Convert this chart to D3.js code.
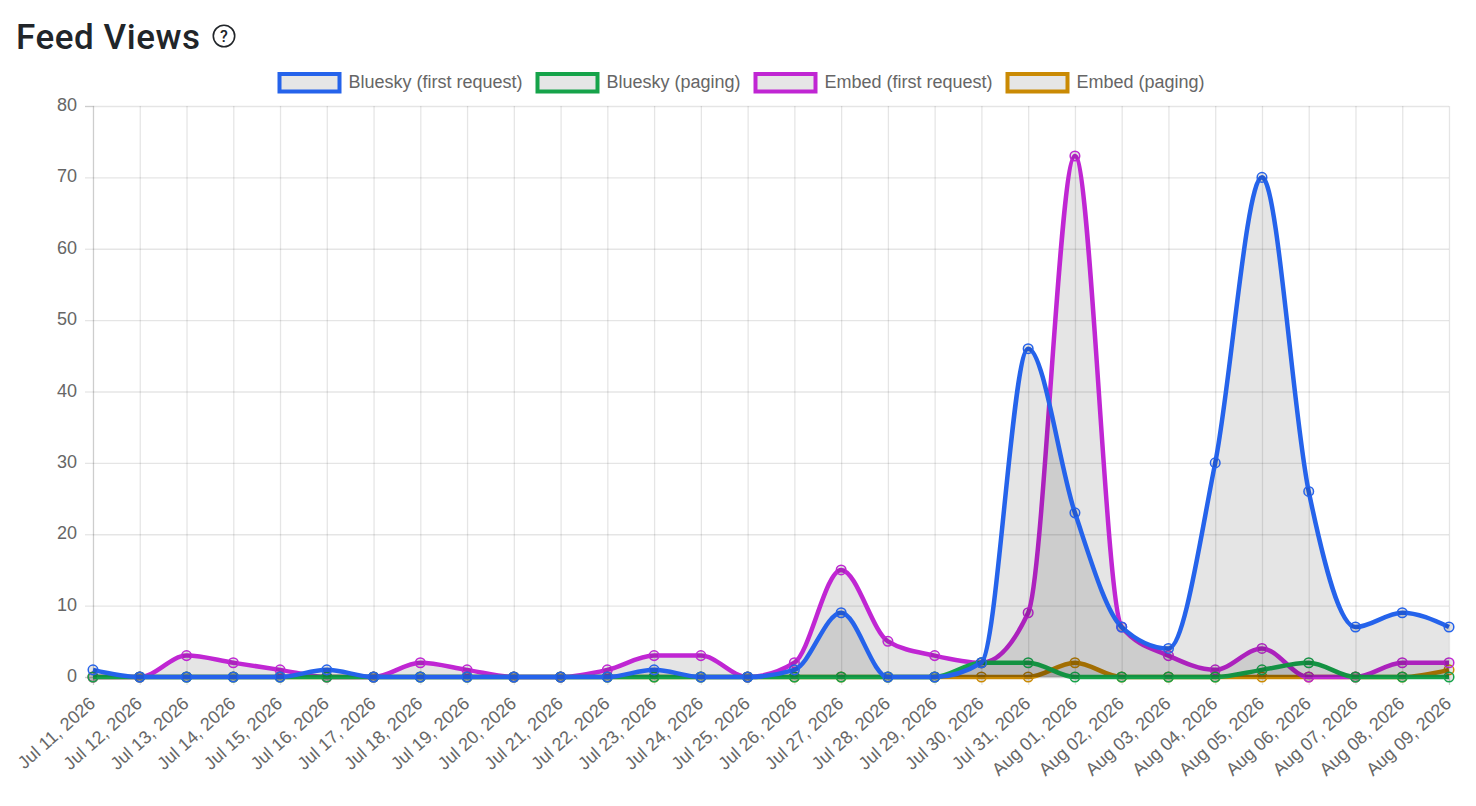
<!DOCTYPE html>
<html>
<head>
<meta charset="utf-8">
<title>Feed Views</title>
<script src="https://cdn.jsdelivr.net/npm/d3@7"></script>
<style>
  html, body { margin: 0; background: #fff; }
  svg { display: block; }
  text { font-family: "Liberation Sans", Arial, sans-serif; fill: #666; }
</style>
</head>
<body>
<script>
// data
const days = ['Jul 11, 2026', 'Jul 12, 2026', 'Jul 13, 2026', 'Jul 14, 2026', 'Jul 15, 2026', 'Jul 16, 2026',
  'Jul 17, 2026', 'Jul 18, 2026', 'Jul 19, 2026', 'Jul 20, 2026', 'Jul 21, 2026', 'Jul 22, 2026', 'Jul 23, 2026',
  'Jul 24, 2026', 'Jul 25, 2026', 'Jul 26, 2026', 'Jul 27, 2026', 'Jul 28, 2026', 'Jul 29, 2026', 'Jul 30, 2026',
  'Jul 31, 2026', 'Aug 01, 2026', 'Aug 02, 2026', 'Aug 03, 2026', 'Aug 04, 2026', 'Aug 05, 2026', 'Aug 06, 2026',
  'Aug 07, 2026', 'Aug 08, 2026', 'Aug 09, 2026'];
const bskyFirst = [1, 0, 0, 0, 0, 1, 0, 0, 0, 0, 0, 0, 1, 0, 0, 1, 9, 0, 0, 2, 46, 23, 7, 4, 30, 70, 26, 7, 9, 7];
const bskyPaging = [0, 0, 0, 0, 0, 0, 0, 0, 0, 0, 0, 0, 0, 0, 0, 0, 0, 0, 0, 2, 2, 0, 0, 0, 0, 1, 2, 0, 0, 0];
const embedFirst = [0, 0, 3, 2, 1, 0, 0, 2, 1, 0, 0, 1, 3, 3, 0, 2, 15, 5, 3, 2, 9, 73, 7, 3, 1, 4, 0, 0, 2, 2];
const embedPaging = [0, 0, 0, 0, 0, 0, 0, 0, 0, 0, 0, 0, 0, 0, 0, 0, 0, 0, 0, 0, 0, 2, 0, 0, 0, 0, 0, 0, 0, 1];
const seriesNames = ['Bluesky (first request)', 'Bluesky (paging)', 'Embed (first request)', 'Embed (paging)'];
const seriesColors = ['#2563eb', '#16a34a', '#c026d3', '#ca8a04'];
const seriesValues = [bskyFirst, bskyPaging, embedFirst, embedPaging];

let width = 1476;
let height = 806;
let margin = {left: 93, top: 106, right: 27, bottom: 129};

let svg = d3.select('body').append('svg')
  .attr('width', width)
  .attr('height', height);

let x = d3.scalePoint().domain(days).range([margin.left, width - margin.right]);
let y = d3.scaleLinear().domain([0, 80]).range([height - margin.bottom, margin.top]);

// title
svg.append('text')
  .attr('x', 16).attr('y', 49)
  .style('font-family', 'Roboto, sans-serif')
  .style('font-weight', 500)
  .style('font-size', '35px')
  .style('letter-spacing', '0.55px')
  .style('fill', '#212529')
  .text('Feed Views');

// help icon
svg.append('circle')
  .attr('cx', 224).attr('cy', 36).attr('r', 10.7)
  .attr('fill', 'none').attr('stroke', '#212529').attr('stroke-width', 1.6);
svg.append('text')
  .attr('x', 224).attr('y', 42)
  .attr('text-anchor', 'middle')
  .style('font-family', 'Roboto, sans-serif')
  .style('font-weight', 500)
  .style('font-size', '16px')
  .style('fill', '#212529')
  .text('?');

// legend
let legendX = [277.5, 535.5, 753.5, 1005.5];
let legend = svg.selectAll('.legend')
  .data(seriesNames)
  .enter().append('g')
  .attr('class', 'legend')
  .attr('transform', (d, i) => `translate(${legendX[i]},72)`);
legend.append('rect')
  .attr('x', 2).attr('y', 2)
  .attr('width', 60).attr('height', 17.5)
  .attr('fill', '#e6e6e6')
  .attr('stroke', (d, i) => seriesColors[i])
  .attr('stroke-width', 4);
legend.append('text')
  .attr('x', 71).attr('y', 16)
  .style('font-size', '18px')
  .text(d => d);

// y axis + horizontal grid
let yAxis = svg.append('g')
  .attr('transform', `translate(${margin.left},0)`)
  .call(d3.axisLeft(y).tickValues(d3.range(0, 81, 10)).tickSize(8).tickPadding(8));
yAxis.selectAll('.tick line').clone()
  .attr('x1', 0).attr('x2', width - margin.left - margin.right);
yAxis.selectAll('line').attr('stroke', 'rgba(0,0,0,0.1)').attr('stroke-width', 1.3);
yAxis.select('.domain').attr('stroke', 'rgba(0,0,0,0.1)').attr('stroke-width', 1.3);
yAxis.selectAll('text').attr('fill', '#666').style('font-size', '18px').attr('dy', '0.25em');

// x axis + vertical grid
let xAxis = svg.append('g')
  .attr('transform', `translate(0,${height - margin.bottom})`)
  .call(d3.axisBottom(x).tickSize(8).tickPadding(8));
xAxis.selectAll('.tick line').clone()
  .attr('y1', 0).attr('y2', margin.top + margin.bottom - height);
xAxis.selectAll('line').attr('stroke', 'rgba(0,0,0,0.1)').attr('stroke-width', 1.3);
xAxis.select('.domain').attr('stroke', 'rgba(0,0,0,0.1)').attr('stroke-width', 1.3);
xAxis.selectAll('text')
  .attr('fill', '#666')
  .style('font-size', '18px')
  .style('text-anchor', 'end')
  .attr('y', 0)
  .attr('dy', 0)
  .attr('transform', 'translate(3,28) rotate(-42)');

let line = d3.line()
  .x((d, i) => x(days[i]))
  .y(d => y(d))
  .curve(d3.curveMonotoneX);

let area = d3.area()
  .x((d, i) => x(days[i]))
  .y0(y(0))
  .y1(d => y(d))
  .curve(d3.curveMonotoneX);

// first series ends up on top, each one draws fill, line, then its points
let order = [3, 2, 1, 0];
order.forEach(s => {
  let values = seriesValues[s];
  let color = seriesColors[s];
  let g = svg.append('g');
  g.append('path')
    .attr('d', area(values))
    .attr('fill', 'rgba(0,0,0,0.1)');
  g.append('path')
    .attr('d', line(values))
    .attr('fill', 'none')
    .attr('stroke', color)
    .attr('stroke-width', 4.5);
  g.selectAll('circle')
    .data(values)
    .enter().append('circle')
    .attr('cx', (d, i) => x(days[i]))
    .attr('cy', d => y(d))
    .attr('r', 4.8)
    .attr('fill', 'rgba(0,0,0,0.1)')
    .attr('stroke', color)
    .attr('stroke-width', 1.5);
});
</script>
</body>
</html>
